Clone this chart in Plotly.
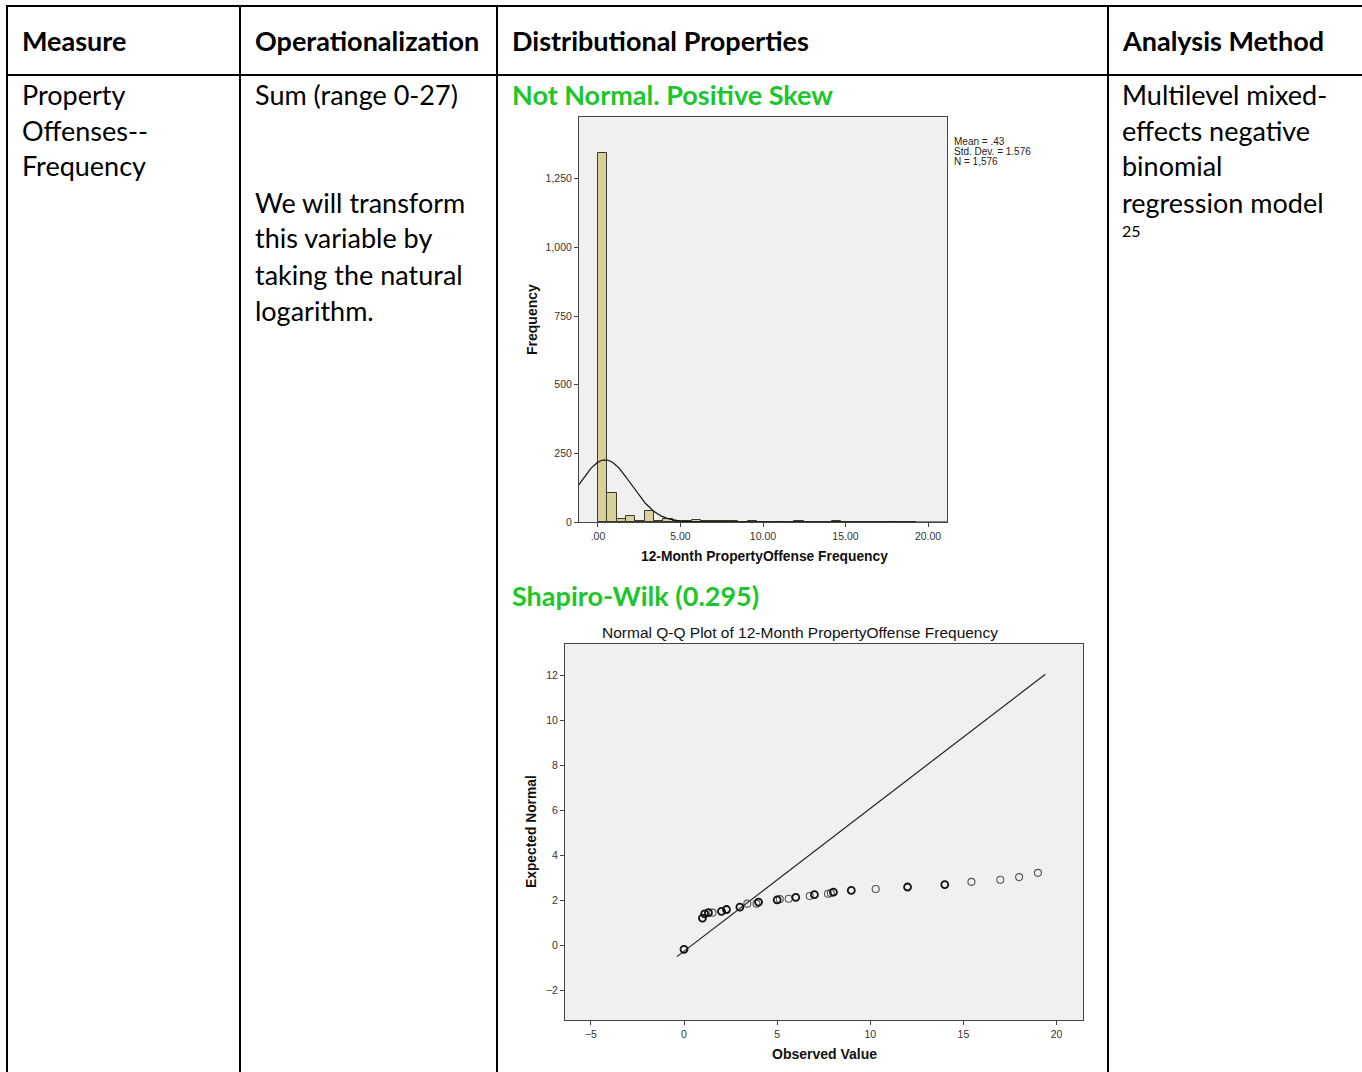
import plotly.graph_objects as go
import math

W, H = 1362, 1072

# ---------------- data ----------------
headers = ["Measure", "Operationalization", "Distributional Properties", "Analysis Method"]
measure_lines = ["Property", "Offenses--", "Frequency"]
oper_line1 = ["Sum (range 0-27)"]
oper_lines2 = ["We will transform", "this variable by", "taking the natural", "logarithm."]
analysis_lines = ["Multilevel mixed-", "effects negative", "binomial", "regression model"]
analysis_note = "25"
title_hist = "Not Normal. Positive Skew"
title_sw = "Shapiro-Wilk (0.295)"

# histogram
bin_width = 0.567
hist_counts = [1345, 105, 11, 22, 4, 39, 2, 12, 5, 2, 7, 2, 4, 2, 3, 0, 3, 1, 0, 0,
               0, 2, 0, 0, 1, 2, 0, 1, 0, 1, 1, 1, 0, 1]
stat_mean, stat_sd, stat_n = 0.43, 1.576, 1576
stats_text = ["Mean = .43", "Std. Dev. = 1.576", "N = 1,576"]
hist_xticks = [0, 5, 10, 15, 20]
hist_xticklabels = [".00", "5.00", "10.00", "15.00", "20.00"]
hist_yticks = [0, 250, 500, 750, 1000, 1250]
hist_yticklabels = ["0", "250", "500", "750", "1,000", "1,250"]

# Q-Q plot: observed vs expected normal
qq_tied_obs = [0.0, 0.99, 1.11, 1.31, 2.01, 2.28, 3.0, 4.0, 5.0, 6.0, 7.0, 8.02, 8.98, 12.0, 14.0]
qq_tied_exp = [-0.19, 1.20, 1.39, 1.44, 1.50, 1.58, 1.69, 1.91, 2.01, 2.12, 2.24, 2.35, 2.43, 2.58, 2.69]
qq_single_obs = [1.53, 3.40, 3.89, 5.14, 5.62, 6.75, 7.73, 7.88, 10.29, 15.43, 16.98, 17.99, 19.0]
qq_single_exp = [1.44, 1.84, 1.84, 2.04, 2.06, 2.18, 2.28, 2.31, 2.49, 2.81, 2.90, 3.02, 3.21]
qq_line_x = [-0.38, 19.4]
qq_ticks_x = [-5, 0, 5, 10, 15, 20]
qq_ticks_y = [-2, 0, 2, 4, 6, 8, 10, 12]

# ---------------- helpers ----------------
def px(x):
    return x / W

def py(y):
    return 1 - y / H

fig = go.Figure()

# histogram bars
centers = [(i + 0.5) * bin_width for i in range(len(hist_counts))]
fig.add_trace(go.Bar(x=centers, y=hist_counts, width=bin_width,
                     marker=dict(color="#D6D19B", line=dict(color="#3a3a2a", width=1)),
                     xaxis="x", yaxis="y", showlegend=False, hoverinfo="skip"))

# normal curve from stated mean/sd/N
cx = [-1.2 + 0.05 * k for k in range(450)]
cy = [stat_n * bin_width / (stat_sd * math.sqrt(2 * math.pi)) *
      math.exp(-0.5 * ((v - stat_mean) / stat_sd) ** 2) for v in cx]
fig.add_trace(go.Scatter(x=cx, y=cy, mode="lines", line=dict(color="#111", width=1.2),
                         xaxis="x", yaxis="y", showlegend=False, hoverinfo="skip"))

# Q-Q reference line
qq_line_y = [(v - stat_mean) / stat_sd for v in qq_line_x]
fig.add_trace(go.Scatter(x=qq_line_x, y=qq_line_y, mode="lines",
                         line=dict(color="#222", width=1.2),
                         xaxis="x2", yaxis="y2", showlegend=False, hoverinfo="skip"))
fig.add_trace(go.Scatter(x=qq_single_obs, y=qq_single_exp, mode="markers",
                         marker=dict(symbol="circle-open", size=7, color="#555",
                                     line=dict(width=1.1, color="#555")),
                         xaxis="x2", yaxis="y2", showlegend=False, hoverinfo="skip"))
fig.add_trace(go.Scatter(x=qq_tied_obs, y=qq_tied_exp, mode="markers",
                         marker=dict(symbol="circle-open", size=7, color="#111",
                                     line=dict(width=1.8, color="#111")),
                         xaxis="x2", yaxis="y2", showlegend=False, hoverinfo="skip"))

tickfont = dict(family="Liberation Sans, Arial", size=10.5, color="#333")
axis_common = dict(showgrid=False, zeroline=False, showline=True, linecolor="#444",
                   linewidth=1, mirror=True, ticks="outside", ticklen=4,
                   tickcolor="#444", tickfont=tickfont, automargin=False)

fig.update_layout(
    xaxis=dict(domain=[px(579), px(947)], anchor="y", range=[-1.15, 21.15],
               tickvals=hist_xticks, ticktext=hist_xticklabels, **axis_common),
    yaxis=dict(domain=[py(522), py(117)], anchor="x", range=[0, 1475],
               tickvals=hist_yticks, ticktext=hist_yticklabels, **axis_common),
    xaxis2=dict(domain=[px(565), px(1083)], anchor="y2", range=[-6.39, 21.42],
                tickvals=qq_ticks_x, **axis_common),
    yaxis2=dict(domain=[py(1020), py(644)], anchor="x2", range=[-3.33, 13.38],
                tickvals=qq_ticks_y, **axis_common),
)

fig.update_layout(width=W, height=H, margin=dict(l=0, r=0, t=0, b=0, pad=0, autoexpand=False),
                  paper_bgcolor="white", plot_bgcolor="#F0F0F0", bargap=0)

# ---------------- table lines ----------------
shapes = []
def hline(y, x0, x1, w=2):
    shapes.append(dict(type="line", xref="paper", yref="paper", x0=px(x0), x1=px(x1),
                       y0=py(y), y1=py(y), line=dict(color="black", width=w)))
def vline(x, y0, y1, w=2):
    shapes.append(dict(type="line", xref="paper", yref="paper", x0=px(x), x1=px(x),
                       y0=py(y0), y1=py(y1), line=dict(color="black", width=w)))
hline(6, 6, 1370)
hline(75, 6, 1370)
for xv in [7, 240, 497, 1108]:
    vline(xv, 5, 1080)
fig.update_layout(shapes=shapes)

# ---------------- text ----------------
ann = []
TF = "Lato, Calibri, Open Sans, sans-serif"
def text(x, y, s, size=27, bold=False, color="black", family=TF):
    ann.append(dict(xref="paper", yref="paper", x=px(x - 2), y=py(y - 2), text=(f"<b>{s}</b>" if bold else s),
                    showarrow=False, xanchor="left", yanchor="middle",
                    font=dict(family=family, size=size, color=color)))

hx = [22, 255, 512, 1122]
for xv, s in zip(hx, headers):
    text(xv, 42, s, bold=True)
for i, s in enumerate(measure_lines):
    text(22, 96 + 36 * i, s)
text(255, 96, oper_line1[0])
for i, s in enumerate(oper_lines2):
    text(255, 204 + 36 * i, s)
for i, s in enumerate(analysis_lines):
    text(1122, 96 + 36 * i, s)
text(1122, 232, analysis_note, size=16)
text(512, 96, title_hist, bold=True, color="#1CC62B")
text(512, 597, title_sw, bold=True, color="#1CC62B")

CF = "Liberation Sans, Arial"
for i, s in enumerate(stats_text):
    ann.append(dict(xref="paper", yref="paper", x=px(952), y=py(141 + 10 * i), text=s,
                    showarrow=False, xanchor="left", yanchor="middle",
                    font=dict(family=CF, size=10, color="#222")))
ann.append(dict(xref="paper", yref="paper", x=px(532), y=py(320), text="<b>Frequency</b>",
                showarrow=False, textangle=-90, xanchor="center", yanchor="middle",
                font=dict(family=CF, size=14, color="#111")))
ann.append(dict(xref="paper", yref="paper", x=px(764), y=py(556),
                text="<b>12-Month PropertyOffense Frequency</b>",
                showarrow=False, xanchor="center", yanchor="middle",
                font=dict(family=CF, size=13.8, color="#111")))
ann.append(dict(xref="paper", yref="paper", x=px(800), y=py(632),
                text="Normal Q-Q Plot of 12-Month PropertyOffense Frequency",
                showarrow=False, xanchor="center", yanchor="middle",
                font=dict(family=CF, size=15.5, color="#111")))
ann.append(dict(xref="paper", yref="paper", x=px(531), y=py(832), text="<b>Expected Normal</b>",
                showarrow=False, textangle=-90, xanchor="center", yanchor="middle",
                font=dict(family=CF, size=13.8, color="#111")))
ann.append(dict(xref="paper", yref="paper", x=px(824), y=py(1054), text="<b>Observed Value</b>",
                showarrow=False, xanchor="center", yanchor="middle",
                font=dict(family=CF, size=14, color="#111")))
fig.update_layout(annotations=ann)

fig.write_html("out.html")
